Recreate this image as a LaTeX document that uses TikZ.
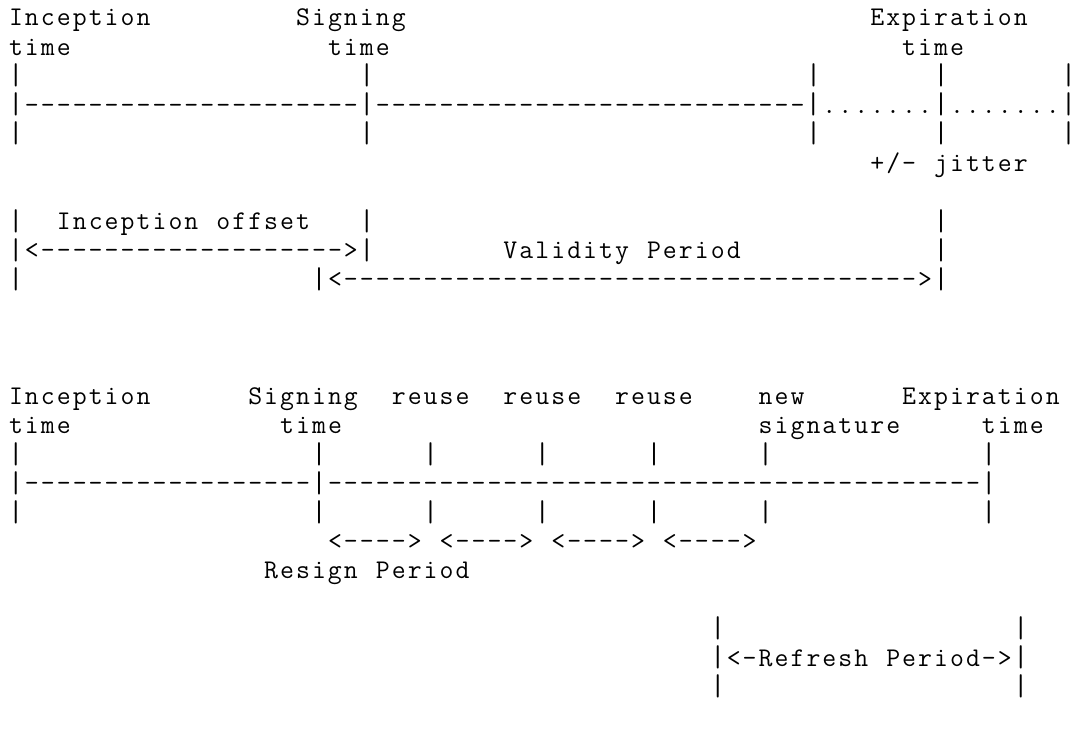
\documentclass[tikz,border=0pt]{standalone}
\newlength\cw
\setlength\cw{15.95pt}
\makeatletter
\def\gtchar#1{\ifx|#1\makebox[\cw]{\raisebox{-0.5pt}{\fontsize{30}{29}\selectfont|}}\else\makebox[\cw]{#1}\fi}
\def\gt#1{\gt@loop#1\relax}
\def\gt@loop#1{\ifx\relax#1\else\gtchar{#1}\expandafter\gt@loop\fi}
\makeatother
\newcommand\rep[2]{\foreach \k in {1,...,#1}{\gtchar{#2}}}
\tikzset{txt/.style={anchor=base west,inner sep=0pt,outer sep=0pt,text=black,
  font=\fontsize{27}{29}\ttfamily\selectfont}}
\newcommand\T[4]{\node[txt] (#1) at ({8+15.95*(#2)},{-26-29.1*(#3)}) {#4};}
\begin{document}
\begin{tikzpicture}[x=1pt,y=1pt]
\fill[white] (0,0) rectangle (1077,-735);
\useasboundingbox (0,0) rectangle (1077,-735);
% ---------- first diagram ----------
\T{incA}{0}{0}{\gt{Inception}}
\T{sigA}{18}{0}{\gt{Signing}}
\T{expA}{54}{0}{\gt{Expiration}}
\T{inctA}{0}{1}{\gt{time}}
\T{sigtA}{20}{1}{\gt{time}}
\T{exptA}{56}{1}{\gt{time}}
\foreach \c [count=\n] in {0,22,50,58,66}{\T{ta\n}{\c}{2}{\gt{|}}\T{tb\n}{\c}{4}{\gt{|}}}
\T{tline}{0}{3}{\gt{|}\rep{21}{-}\gt{|}\rep{27}{-}\gt{|}\rep{7}{.}\gt{|}\rep{7}{.}\gt{|}}
\T{pm}{54}{5}{\gt{+/-}}
\T{jit}{58}{5}{\gt{jitter}}
\T{obA}{0}{7}{\gt{|}}
\T{ioA}{3}{7}{\gt{Inception}}
\T{ioB}{13}{7}{\gt{offset}}
\T{obB}{22}{7}{\gt{|}}
\T{obC}{58}{7}{\gt{|}}
\T{ioarr}{0}{8}{\gt{|<}\rep{19}{-}\gt{>|}}
\T{vpA}{31}{8}{\gt{Validity}}
\T{vpB}{40}{8}{\gt{Period}}
\T{vbA}{58}{8}{\gt{|}}
\T{vbB}{0}{9}{\gt{|}}
\T{vparr}{19}{9}{\gt{|<}\rep{36}{-}\gt{>|}}
% ---------- second diagram ----------
\T{incB}{0}{13}{\gt{Inception}}
\T{sigB}{15}{13}{\gt{Signing}}
\T{reA}{24}{13}{\gt{reuse}}
\T{reB}{31}{13}{\gt{reuse}}
\T{reC}{38}{13}{\gt{reuse}}
\T{newA}{47}{13}{\gt{new}}
\T{expB}{56}{13}{\gt{Expiration}}
\T{inctB}{0}{14}{\gt{time}}
\T{sigtB}{17}{14}{\gt{time}}
\T{newB}{47}{14}{\gt{signature}}
\T{exptB}{61}{14}{\gt{time}}
\foreach \c [count=\n] in {0,19,26,33,40,47,61}{\T{ba\n}{\c}{15}{\gt{|}}\T{bb\n}{\c}{17}{\gt{|}}}
\T{bline}{0}{16}{\gt{|}\rep{18}{-}\gt{|}\rep{41}{-}\gt{|}}
\foreach \c [count=\n] in {20,27,34,41}{\T{rp\n}{\c}{18}{\gt{<}\rep{4}{-}\gt{>}}}
\T{rsA}{16}{19}{\gt{Resign}}
\T{rsB}{23}{19}{\gt{Period}}
\T{rfA}{44}{21}{\gt{|}}
\T{rfB}{63}{21}{\gt{|}}
\T{rfC}{44}{22}{\gt{|<-Refresh}}
\T{rfD}{55}{22}{\gt{Period->|}}
\T{rfE}{44}{23}{\gt{|}}
\T{rfF}{63}{23}{\gt{|}}
\end{tikzpicture}
\end{document}
